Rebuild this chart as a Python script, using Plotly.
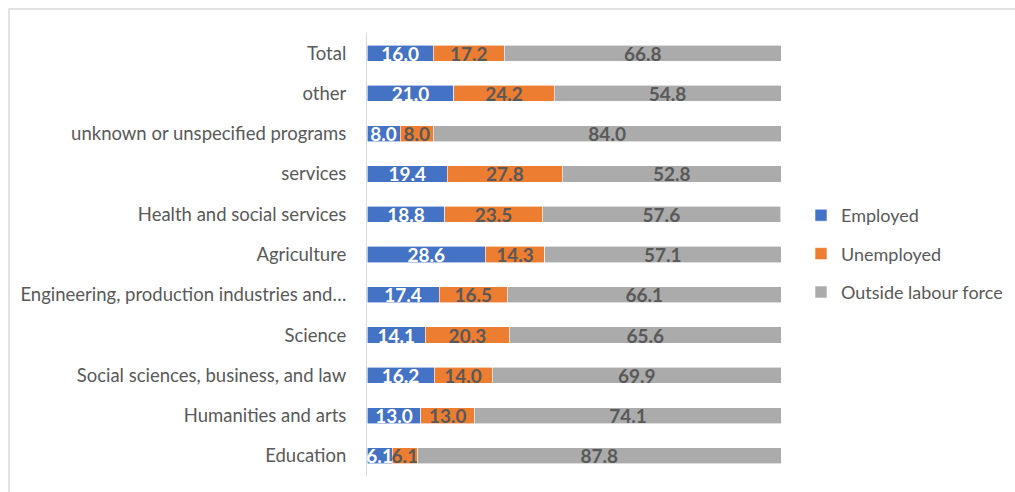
import plotly.graph_objects as go

categories = ["Total", "other", "unknown or unspecified programs", "services",
              "Health and social services", "Agriculture",
              "Engineering, production industries and…", "Science",
              "Social sciences, business, and law", "Humanities and arts", "Education"]
employed = [16.0, 21.0, 8.0, 19.4, 18.8, 28.6, 17.4, 14.1, 16.2, 13.0, 6.1]
unemployed = [17.2, 24.2, 8.0, 27.8, 23.5, 14.3, 16.5, 20.3, 14.0, 13.0, 6.1]
outside = [66.8, 54.8, 84.0, 52.8, 57.6, 57.1, 66.1, 65.6, 69.9, 74.1, 87.8]

series = [
    ("Employed", employed, "#4472C4", "white"),
    ("Unemployed", unemployed, "#ED7D31", "#595959"),
    ("Outside labour force", outside, "#ABABAB", "#595959"),
]

fig = go.Figure()
for name, vals, color, tcolor in series:
    fig.add_trace(go.Bar(
        y=categories, x=vals, name=name, orientation="h",
        marker=dict(color=color, line=dict(color="white", width=0.6)),
        text=[f"{v:.1f}" for v in vals], textposition="inside",
        insidetextanchor="middle", constraintext="none",
        textfont=dict(family="Lato", size=19, color=tcolor, weight="bold"),
        legendgroup=name, hoverinfo="skip",
    ))

L, R, T, B = 367, 781, 33, 476
W = R - L
H = B - T

fig.update_layout(
    barmode="stack", bargap=0.6,
    width=1015, height=492, autosize=False,
    margin=dict(l=L, r=1015 - R, t=T, b=492 - B, autoexpand=False),
    paper_bgcolor="white", plot_bgcolor="white",
    font=dict(family="Lato", color="#595959", size=18),
    uniformtext=dict(minsize=19, mode="show"),
    xaxis=dict(visible=False, range=[0, 100], fixedrange=True),
    yaxis=dict(autorange="reversed", showline=True, linecolor="#D9D9D9", linewidth=1,
               ticks="", ticklabelstandoff=16, showgrid=False, automargin=False,
               tickfont=dict(size=18.5, color="#595959", family="Lato")),
    legend=dict(x=(801 - L) / W, xanchor="left", y=(B - 254) / H, yanchor="middle",
                traceorder="grouped", tracegroupgap=12,
                font=dict(size=18, color="#595959", family="Lato"),
                itemwidth=30, bgcolor="rgba(0,0,0,0)"),
    shapes=[dict(type="rect", xref="paper", yref="paper",
                 x0=(9 - L) / W, x1=(1030 - L) / W,
                 y0=(B - 510) / H, y1=(B - 9) / H,
                 line=dict(color="#D9D9D9", width=1.5), fillcolor="rgba(0,0,0,0)",
                 layer="below")],
)

post = """
document.documentElement.style.margin='0';
document.documentElement.style.overflow='hidden';
document.body.style.margin='0';
document.body.style.padding='0';
document.body.style.overflow='hidden';
var gd = document.getElementById('{plot_id}');
Plotly.relayout(gd, {width: 1015, height: 492});
"""

fig.write_html("out.html", config={"responsive": False, "displayModeBar": False},
               post_script=post)
